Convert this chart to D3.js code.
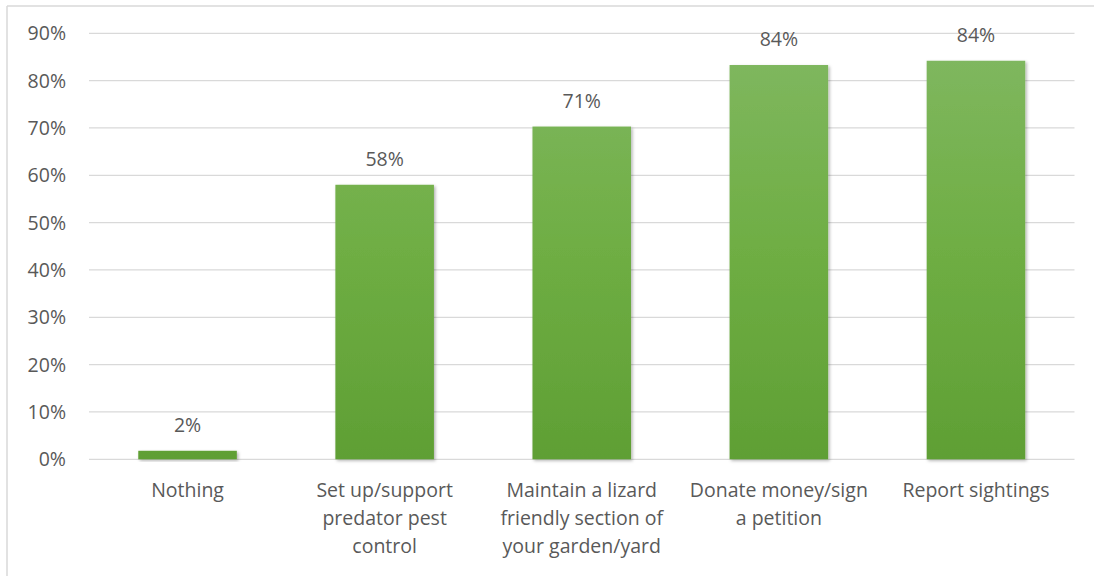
<!DOCTYPE html>
<html>
<head>
<meta charset="utf-8">
<script src="https://cdn.jsdelivr.net/npm/d3@7/dist/d3.min.js"></script>
<style>
  html, body { margin: 0; padding: 0; background: #fff; }
  svg { display: block; }
  text { font-family: "Open Sans", "Noto Sans", sans-serif; fill: #595959; }
</style>
</head>
<body>
<svg id="chart" width="1094" height="576"></svg>
<script>
// "\n" marks where the category label wraps in the reference
const categories = [
  "Nothing",
  "Set up/support\npredator pest\ncontrol",
  "Maintain a lizard\nfriendly section of\nyour garden/yard",
  "Donate money/sign\na petition",
  "Report sightings"
];
const values = [1.8, 58.0, 70.3, 83.3, 84.2];
const valueLabels = ["2%", "58%", "71%", "84%", "84%"];
const yTicks = [0, 10, 20, 30, 40, 50, 60, 70, 80, 90];

const svg = d3.select("#chart");
const W = 1094, H = 576;
const plotLeft = 89, plotRight = 1074.5, plotTop = 33.3, plotBottom = 459.3;

// chart border (top and left visible)
svg.append("line").attr("x1", 7).attr("x2", W).attr("y1", 6).attr("y2", 6)
  .attr("stroke", "#d9d9d9").attr("stroke-width", 1.5);
svg.append("line").attr("x1", 7).attr("x2", 7).attr("y1", 6).attr("y2", H)
  .attr("stroke", "#d9d9d9").attr("stroke-width", 1.5);

const x = d3.scaleBand().domain(categories).range([plotLeft, plotRight]).paddingInner(0.5).paddingOuter(0.25);
const y = d3.scaleLinear().domain([0, 90]).range([plotBottom, plotTop]);

const defs = svg.append("defs");
const grad = defs.append("linearGradient").attr("id", "barGrad")
  .attr("gradientUnits", "userSpaceOnUse")
  .attr("x1", 0).attr("x2", 0).attr("y1", y(90)).attr("y2", y(0));
grad.append("stop").attr("offset", "0%").attr("stop-color", "#81b862");
grad.append("stop").attr("offset", "50%").attr("stop-color", "#6fae44");
grad.append("stop").attr("offset", "100%").attr("stop-color", "#5f9f34");

const shadow = defs.append("filter").attr("id", "shadow")
  .attr("x", "-10%").attr("y", "-10%").attr("width", "130%").attr("height", "130%");
shadow.append("feDropShadow").attr("dx", 1.5).attr("dy", 1.5).attr("stdDeviation", 1.5)
  .attr("flood-color", "#000").attr("flood-opacity", 0.3);

// gridlines
svg.append("g").selectAll("line").data(yTicks).join("line")
  .attr("x1", plotLeft).attr("x2", plotRight)
  .attr("y1", d => y(d)).attr("y2", d => y(d))
  .attr("stroke", "#d9d9d9").attr("stroke-width", 1.3);

// y axis labels
const yAxis = d3.axisLeft(y).tickValues(yTicks).tickFormat(d => d + "%").tickSize(0).tickPadding(0);
const yg = svg.append("g").attr("transform", "translate(66,0)").call(yAxis);
yg.select(".domain").remove();
yg.selectAll("text").attr("font-size", "19.5px").attr("fill", "#595959")
  .style("font-family", '"Open Sans", sans-serif').attr("dy", "0.34em");

// bars
const bars = values.map((v, i) => ({ c: categories[i], v, l: valueLabels[i] }));
svg.append("g").selectAll("rect").data(bars).join("rect")
  .attr("x", d => x(d.c)).attr("width", x.bandwidth())
  .attr("y", d => y(d.v)).attr("height", d => y(0) - y(d.v))
  .attr("fill", "url(#barGrad)").attr("filter", "url(#shadow)");

// value labels
svg.append("g").selectAll("text").data(bars).join("text")
  .attr("x", d => x(d.c) + x.bandwidth() / 2)
  .attr("y", d => y(d.v) - 19)
  .attr("text-anchor", "middle").attr("font-size", "19.5px")
  .text(d => d.l);

// category labels
const xg = svg.append("g");
categories.forEach(c => {
  const cx = x(c) + x.bandwidth() / 2;
  const t = xg.append("text").attr("text-anchor", "middle").attr("font-size", "19.5px")
    .attr("x", cx).attr("y", 497);
  c.split("\n").forEach((ln, i) => {
    t.append("tspan").attr("x", cx).attr("dy", i === 0 ? 0 : 28).text(ln);
  });
});
</script>
</body>
</html>
